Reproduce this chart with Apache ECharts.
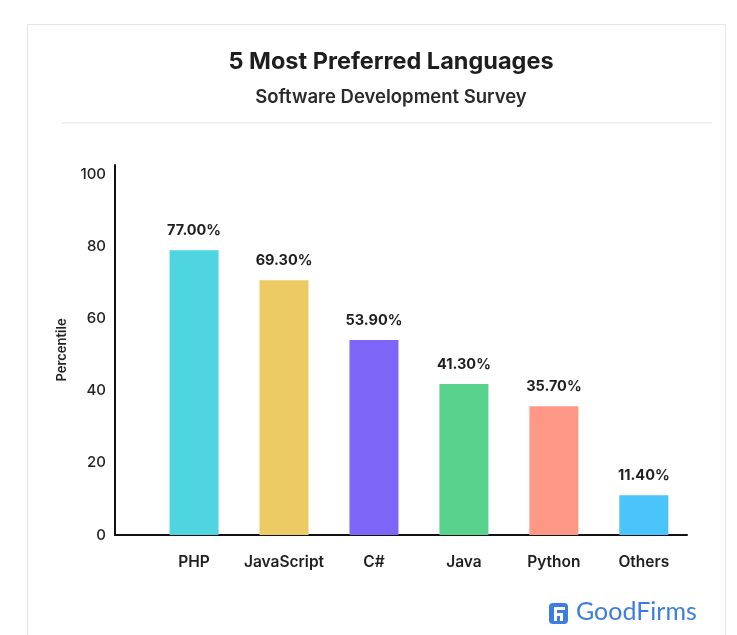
<!DOCTYPE html>
<html>
<head>
<meta charset="utf-8">
<script src="https://cdn.jsdelivr.net/npm/echarts@6/dist/echarts.min.js"></script>
<style>
html,body{margin:0;padding:0;background:#ffffff;}
#card{position:absolute;left:27px;top:24px;width:699px;height:640px;border:1px solid #e6e6e6;background:#fff;box-sizing:border-box;}
#chart{position:absolute;left:0;top:0;width:737px;height:635px;}
</style>
</head>
<body>
<div id="card"></div>
<div id="chart"></div>
<script>
// Data
const categories = ['PHP', 'JavaScript', 'C#', 'Java', 'Python', 'Others'];
const barHeights = [78.9, 70.6, 54.0, 41.8, 35.7, 11.0];   // bar heights as drawn
const printedLabels = ['77.00%', '69.30%', '53.90%', '41.30%', '35.70%', '11.40%'];
const yTicks = [0, 20, 40, 60, 80, 100];
const colors = ['#4ed5df', '#ecca64', '#7d66f8', '#58d18c', '#fd9886', '#4ac4fa'];

const FONT = 'Inter';
const chart = echarts.init(document.getElementById('chart'));

const seriesData = barHeights.map((v, i) => ({
  value: [i, v],
  itemStyle: { color: colors[i] },
  label: { formatter: printedLabels[i] }
}));

chart.setOption({
  backgroundColor: 'transparent',
  animation: false,
  title: [
    { text: '5 Most Preferred Languages', left: 386, top: 45, textAlign: 'center',
      textStyle: { fontFamily: FONT, fontWeight: 700, fontSize: 23.5, color: '#1e1e1e' } },
    { text: 'Software Development Survey', left: 386, top: 83, textAlign: 'center',
      textStyle: { fontFamily: FONT, fontWeight: 600, fontSize: 18.5, color: '#2a2a2a' } }
  ],
  grid: { left: 115, right: 737 - 687, top: 165, bottom: 635 - 535, containLabel: false },
  xAxis: {
    type: 'value', min: -0.879, max: 5.48,
    axisLine: { show: true, onZero: false, lineStyle: { color: '#111', width: 2 } },
    axisTick: { show: false },
    splitLine: { show: false },
    axisLabel: {
      customValues: [0, 1, 2, 3, 4, 5],
      formatter: v => categories[Math.round(v)],
      margin: 19,
      fontFamily: FONT, fontWeight: 600, fontSize: 15.5, color: '#1e1e1e'
    }
  },
  yAxis: {
    type: 'value', min: 0, max: 102.5,
    name: 'Percentile', nameLocation: 'middle', nameRotate: 90, nameGap: 46,
    nameTextStyle: { fontFamily: FONT, fontSize: 13, color: '#222', fontWeight: 600 },
    axisLine: { show: true, onZero: false, lineStyle: { color: '#111', width: 2 } },
    axisTick: { show: false },
    splitLine: { show: false },
    axisLabel: {
      customValues: yTicks,
      margin: 9, fontFamily: FONT, fontSize: 15, color: '#222', fontWeight: 500
    }
  },
  series: [{
    type: 'bar',
    barWidth: 49,
    data: seriesData,
    label: {
      show: true, position: 'top', distance: 12,
      fontFamily: FONT, fontWeight: 700, fontSize: 14.5, color: '#1e1e1e'
    }
  }],
  graphic: [
    { type: 'line', shape: { x1: 62, y1: 123, x2: 712, y2: 123 },
      style: { stroke: '#dfe3e8', lineWidth: 1 }, silent: true },
    { type: 'group', left: 549, top: 603, children: [
      { type: 'rect', shape: { x: 0, y: 0, width: 19, height: 21, r: 4 }, style: { fill: '#3d7ce0' } },
      { type: 'rect', shape: { x: 5, y: 4, width: 11, height: 3 }, style: { fill: '#ffffff' } },
      { type: 'rect', shape: { x: 5, y: 4, width: 3, height: 14 }, style: { fill: '#ffffff' } },
      { type: 'rect', shape: { x: 5, y: 10, width: 9, height: 3 }, style: { fill: '#ffffff' } },
      { type: 'rect', shape: { x: 11, y: 10, width: 3, height: 8 }, style: { fill: '#ffffff' } }
    ]},
    { type: 'text', left: 576, top: 599,
      style: { text: 'GoodFirms', fontFamily: 'Lato', fontSize: 25, fill: '#3d7ce0' } }
  ]
});
</script>
</body>
</html>
